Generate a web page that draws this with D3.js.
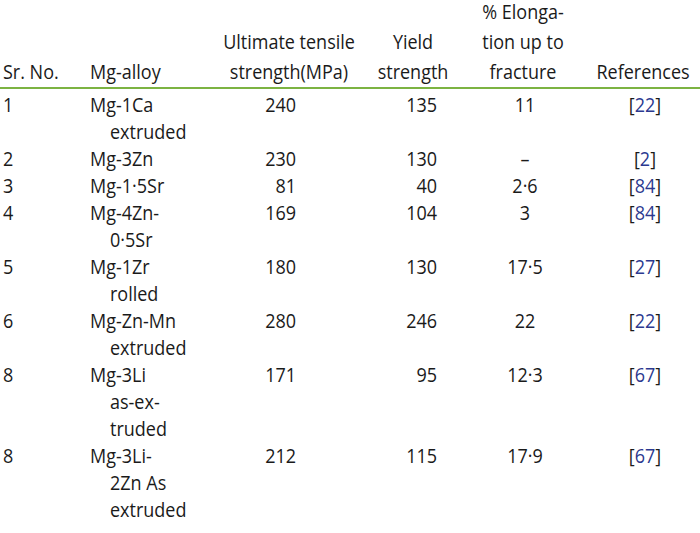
<!DOCTYPE html>
<html lang="en">
<head>
<meta charset="UTF-8">
<style>
  body { margin: 0; background: #fff; }
  svg { font-family: "Open Sans", sans-serif; font-size: 20px; fill: #1a1a1a; }
  .ref { fill: #2b3990; }
</style>
</head>
<body>
<svg width="700" height="533"></svg>
<script src="https://d3js.org/d3.v7.min.js"></script>
<script>
const headers = [
  ["Sr. No."], ["Mg-alloy"], ["Ultimate tensile", "strength(MPa)"],
  ["Yield", "strength"], ["% Elonga-", "tion up to", "fracture"], ["References"]
];
const srNo = ["1", "2", "3", "4", "5", "6", "8", "8"];
const alloys = [
  ["Mg-1Ca", "extruded"], ["Mg-3Zn"], ["Mg-1·5Sr"], ["Mg-4Zn-", "0·5Sr"],
  ["Mg-1Zr", "rolled"], ["Mg-Zn-Mn", "extruded"], ["Mg-3Li", "as-ex-", "truded"],
  ["Mg-3Li-", "2Zn As", "extruded"]
];
const uts = ["240", "230", "81", "169", "180", "280", "171", "212"];
const yieldStr = ["135", "130", "40", "104", "130", "246", "95", "115"];
const elong = ["11", "–", "2·6", "3", "17·5", "22", "12·3", "17·9"];
const refs = ["22", "2", "84", "84", "27", "22", "67", "67"];

const svg = d3.select("svg");
// line-based vertical scale
const y = d3.scaleLinear().domain([0, 1]).range([112, 139]);

// horizontally condensed text, like the narrow face in the source
function txt(x, yy, anchor, s) {
  return svg.append("text")
    .attr("transform", `translate(${x},${yy}) scale(0.9,1)`)
    .attr("text-anchor", anchor).text(s);
}

const hx = [3, 90, 289, 413, 523, 643];
const hAnchor = ["start", "start", "middle", "middle", "middle", "middle"];
headers.forEach((h, c) => {
  h.forEach((t, k) => txt(hx[c], 79 - (h.length - 1 - k) * 30, hAnchor[c], t));
});

svg.append("line").attr("x1", 0).attr("x2", 700).attr("y1", 88).attr("y2", 88)
  .attr("stroke", "#7cb342").attr("stroke-width", 2);

let line = 0;
srNo.forEach((s, i) => {
  const y0 = y(line);
  txt(3, y0, "start", s);
  alloys[i].forEach((t, k) => txt(k === 0 ? 90 : 110, y(line + k), "start", t));
  txt(296, y0, "end", uts[i]);
  txt(437, y0, "end", yieldStr[i]);
  txt(525, y0, "middle", elong[i]);
  const r = txt(645, y0, "middle", null);
  r.append("tspan").text("[");
  r.append("tspan").attr("class", "ref").text(refs[i]);
  r.append("tspan").text("]");
  line += alloys[i].length;
});
</script>
</body>
</html>
